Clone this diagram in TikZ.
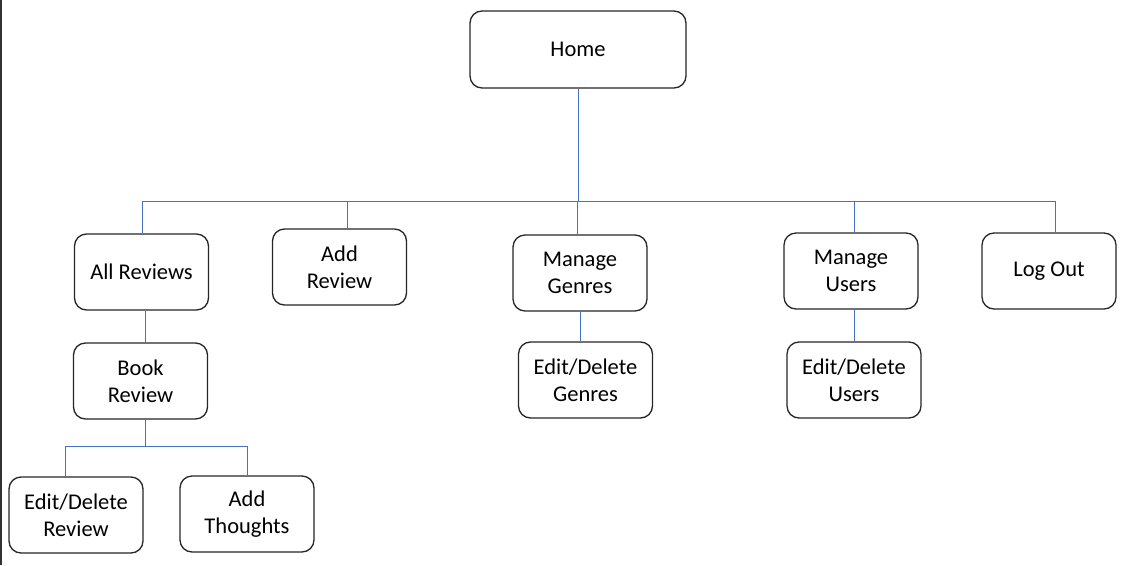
\documentclass[tikz,border=0pt]{standalone}
\usepackage{fontspec}
\setmainfont{Carlito}
\usetikzlibrary{calc}
\begin{document}
\begin{tikzpicture}[x=1pt,y=-1pt,
  box/.style={draw=black!85,line width=1.3pt,rounded corners=12pt,fill=white,
    minimum width=134pt,minimum height=76pt,align=center,inner sep=0pt,
    font=\fontsize{22.5pt}{27pt}\selectfont},
  link/.style={draw={rgb,255:red,68;green,114;blue,196},line width=1.4pt}]
\useasboundingbox (0,0) rectangle (1123,565);
\fill[black!80] (0,0) rectangle (1.5,565);
\node[box,minimum width=216pt,minimum height=77pt] (home) at (578,49.5) {Home};
\node[box] (allrev) at (141.5,272) {All Reviews};
\node[box] (addrev) at (339.5,267) {Add\\Review};
\node[box] (mgen) at (580,273) {Manage\\Genres};
\node[box] (muser) at (851,271) {Manage\\Users};
\node[box] (logout) at (1049,271) {Log Out};
\node[box] (book) at (140.5,381) {Book\\Review};
\node[box] (edgen) at (585.5,380) {Edit/Delete\\Genres};
\node[box] (eduser) at (854,380) {Edit/Delete\\Users};
\node[box] (edrev) at (76,515) {Edit/Delete\\Review};
\node[box] (thoughts) at (247,514) {Add\\Thoughts};
\coordinate (bar) at (578.5,201.5);
\coordinate (bar2) at (145.5,446.5);
\draw[link] ($(home.south)+(0.5,0)$) -- (bar);
\draw[link] (allrev.north) ++(1,0) |- (bar);
\draw[link] (addrev.north) ++(8,0) |- (bar);
\draw[link] (mgen.north) ++(-2.5,0) -- ++(0,-33.5);
\draw[link] (muser.north) ++(3.5,0) |- (bar);
\draw[link] (logout.north) ++(6.5,0) |- (bar);
\draw[link] (allrev.south) ++(4,0) -- ($(book.north)+(5,0)$);
\draw[link] (mgen.south) ++(0.5,0) -- ($(mgen.south |- edgen.north)+(0.5,0)$);
\draw[link] (muser.south) ++(3.5,0) -- ($(eduser.north)+(0.5,0)$);
\draw[link] (book.south) ++(5,0) -- (bar2);
\draw[link] (edrev.north) ++(-10.5,0) |- (bar2);
\draw[link] (thoughts.north) ++(0.5,0) |- (bar2);
\end{tikzpicture}
\end{document}
